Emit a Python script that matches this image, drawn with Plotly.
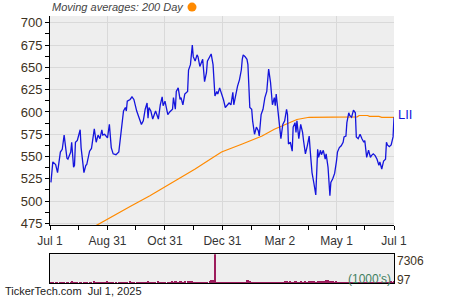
import pandas as pd
import plotly.graph_objects as go

start_date = pd.Timestamp("2024-07-01")

# day offsets from Jul 1, 2024 of the price points
price_days = [
    1, 3, 6, 8, 11, 13, 15, 18, 19, 22,
    23, 25, 26, 27, 29, 32, 33, 36, 38, 39,
    42, 44, 47, 49, 51, 53, 55, 56, 58, 61,
    63, 65, 67, 70, 73, 75, 78, 80, 81, 82,
    85, 87, 89, 92, 94, 97, 99, 101, 103, 104,
    105, 107, 109, 111, 112, 115, 117, 119, 120, 122,
    125, 127, 130, 131, 133, 134, 136, 138, 139, 141,
    143, 146, 147, 149, 151, 152, 154, 156, 157, 159,
    161, 162, 164, 166, 167, 170, 171, 173, 175, 177,
    178, 180, 182, 184, 186, 188, 190, 192, 194, 195,
    197, 199, 201, 203, 204, 205, 207, 209, 210, 212,
    214, 215, 217, 219, 221, 222, 224, 226, 228, 230,
    231, 232, 234, 236, 238, 239, 240, 242, 244, 245,
    247, 249, 251, 252, 253, 255, 257, 258, 260, 261,
    262, 264, 266, 268, 269, 271, 273, 275, 276, 278,
    280, 282, 284, 285, 287, 288, 290, 292, 293, 295,
    297, 298, 300, 302, 304, 305, 307, 309, 311, 312,
    314, 315, 317, 318, 320, 322, 324, 325, 327, 329,
    331, 333, 334, 336, 338, 340, 341, 343, 345, 347,
    349, 350, 352, 354, 356, 357, 358, 360, 362, 364,
    365,
]
prices = [
    521, 544, 541, 532, 555, 558, 574, 548, 547, 555,
    566, 538, 540, 566, 568, 580, 560, 532, 540, 541,
    556, 559, 581, 566, 574, 570, 580, 574, 575, 571,
    586, 560, 553, 552, 555, 571, 601, 605, 601, 612,
    614, 617, 614, 601, 595, 586, 590, 603, 610, 593,
    605, 601, 592, 600, 601, 592, 608, 617, 607, 612,
    597, 600, 603, 616, 603, 623, 627, 614, 616, 608,
    620, 623, 647, 653, 675, 662, 657, 664, 662, 651,
    657, 659, 634, 644, 657, 662, 665, 653, 618, 623,
    620, 627, 621, 614, 605, 608, 610, 608, 622, 608,
    621, 629, 636, 647, 659, 664, 662, 659, 653, 605,
    603, 590, 575, 583, 579, 573, 597, 603, 616, 623,
    636, 648, 633, 608, 616, 607, 620, 597, 581, 570,
    586, 590, 603, 597, 564, 566, 556, 583, 588, 577,
    590, 570, 586, 577, 568, 553, 562, 573, 558, 532,
    520, 507, 558, 549, 557, 552, 557, 547, 553, 538,
    506, 521, 525, 531, 545, 555, 560, 562, 566, 572,
    573, 588, 599, 596, 594, 602, 599, 572, 570, 575,
    570, 566, 568, 549, 557, 549, 551, 553, 551, 547,
    540, 544, 536, 545, 547, 566, 563, 561, 563, 572,
    594,
]
# volume (1000's), same days as the prices
volumes = [
    330, 310, 300, 290, 310, 300, 330, 320, 300, 310,
    560, 310, 300, 290, 330, 310, 300, 290, 310, 300,
    290, 300, 480, 310, 300, 290, 310, 300, 330, 520,
    310, 300, 290, 310, 300, 290, 310, 300, 310, 290,
    520, 310, 300, 290, 310, 300, 290, 310, 300, 520,
    310, 300, 290, 310, 300, 620, 310, 300, 290, 310,
    300, 310, 420, 400, 440, 420, 400, 440, 420, 400,
    420, 440, 400, 420, 440, 400, 330, 310, 300, 310,
    300, 310, 330, 310, 300, 560, 820, 780, 7306, 330,
    310, 300, 290, 310, 300, 310, 300, 290, 310, 300,
    310, 300, 290, 310, 300, 310, 330, 820, 780, 560,
    310, 300, 330, 310, 300, 310, 300, 310, 300, 290,
    310, 300, 330, 310, 300, 310, 330, 310, 300, 330,
    330, 620, 560, 420, 400, 420, 330, 310, 520, 420,
    400, 330, 420, 400, 330, 420, 400, 620, 440, 420,
    440, 400, 440, 420, 400, 440, 420, 650, 860, 760,
    520, 440, 420, 400, 420, 400, 330, 310, 330, 310,
    300, 310, 330, 310, 300, 310, 300, 290, 310, 300,
    310, 300, 290, 310, 300, 310, 300, 290, 310, 300,
    310, 300, 290, 310, 300, 290, 310, 300, 620, 310,
    560,
]
# 200-day moving average
ma_days = [48, 66, 85, 106, 124, 143, 154, 170, 182, 204, 225, 238, 250,
           262, 275, 326, 328, 337, 339, 349, 352, 365]
ma_values = [472, 483, 494, 506, 517, 529, 536, 547, 555, 564, 573, 580.5, 586,
             591.5, 594, 594.5, 596, 596, 595, 595, 594, 594]

x_tick_dates = ["2024-07-01", "2024-08-31", "2024-10-31", "2024-12-31",
                "2025-03-02", "2025-05-01", "2025-07-01"]
x_tick_labels = ["Jul 1", "Aug 31", "Oct 31", "Dec 31", "Mar 2", "May 1", "Jul 1"]
x_minor_dates = ["2024-07-31", "2024-09-30", "2024-11-30", "2025-01-31",
                 "2025-04-01", "2025-05-31"]
y_ticks = [475, 500, 525, 550, 575, 600, 625, 650, 675, 700]
vol_max, vol_min = 7306, 97
ticker = "LII"
legend_text = "Moving averages: 200 Day"
footer_text = "TickerTech.com  Jul 1, 2025"

price_dates = [start_date + pd.Timedelta(days=d) for d in price_days]
ma_dates = [start_date + pd.Timedelta(days=d) for d in ma_days]

FONT = "Liberation Sans, Arial, sans-serif"
BLUE = "#1414dc"
ORANGE = "#ff8a00"
GRID = "#d9d9d9"
LABEL = "#3d3222"

fig = go.Figure()
fig.add_trace(go.Scatter(x=ma_dates, y=ma_values, mode="lines",
                         line=dict(color=ORANGE, width=1.2), hoverinfo="skip"))
fig.add_trace(go.Scatter(x=price_dates, y=prices, mode="lines",
                         line=dict(color=BLUE, width=1.3), hoverinfo="skip"))
fig.add_trace(go.Bar(x=price_dates, y=volumes, xaxis="x2", yaxis="y2",
                     marker=dict(color="#9c1c5c", line=dict(width=0)),
                     width=1.2 * 86400000, hoverinfo="skip"))

minor_y = [t + 12.5 for t in y_ticks[:-1]]

fig.update_layout(
    width=450, height=300,
    margin=dict(l=50, r=56, t=16, b=15),
    paper_bgcolor="white", plot_bgcolor="#eeeeee",
    showlegend=False, bargap=0,
    font=dict(family=FONT, size=12, color="#333333"),
    xaxis=dict(domain=[0, 1], anchor="y", type="date",
               range=["2024-07-01", "2025-07-01"],
               tickvals=x_tick_dates, ticktext=x_tick_labels,
               showgrid=True, gridcolor=GRID, gridwidth=1,
               showline=True, linecolor="black", linewidth=1,
               ticks="outside", ticklen=4, tickcolor="black",
               tickfont=dict(size=12, color="#333333"),
               minor=dict(tickvals=x_minor_dates, ticks="outside", ticklen=4,
                          tickcolor="black", showgrid=False),
               zeroline=False),
    yaxis=dict(domain=[0.2156, 1], anchor="x", range=[472.7, 707.6],
               tickvals=y_ticks, showgrid=True, gridcolor=GRID, gridwidth=1,
               showline=True, linecolor="black", linewidth=1,
               ticks="outside", ticklen=4, tickcolor="black",
               tickfont=dict(size=13, color=LABEL),
               minor=dict(tickvals=minor_y, ticks="outside", ticklen=4,
                          tickcolor="black", showgrid=False),
               zeroline=False),
    xaxis2=dict(domain=[0, 1], anchor="y2", matches="x", type="date",
                showticklabels=False, showgrid=False, ticks="",
                showline=True, mirror=True, linecolor="black", linewidth=1),
    yaxis2=dict(domain=[0, 0.1078], anchor="x2", range=[vol_min, vol_max],
                showticklabels=False, showgrid=False, ticks="", zeroline=False,
                showline=True, mirror=True, linecolor="black", linewidth=1),
)

ann = [
    dict(text="<i>" + legend_text + "</i>", xref="paper", yref="paper",
         x=0, y=1.0335, xanchor="left", yanchor="middle", showarrow=False,
         font=dict(size=11, color="#444444")),
    dict(text=ticker, xref="paper", yref="y", x=1, y=prices[-1],
         xanchor="left", yanchor="middle", xshift=2, yshift=3, showarrow=False,
         font=dict(size=13, color=BLUE)),
    dict(text=str(vol_max), xref="paper", yref="paper", x=1, y=0.0836,
         xanchor="left", yanchor="middle", xshift=1, showarrow=False,
         font=dict(size=12, color=LABEL)),
    dict(text=str(vol_min), xref="paper", yref="paper", x=1, y=0.0112,
         xanchor="left", yanchor="middle", xshift=1, showarrow=False,
         font=dict(size=12, color=LABEL)),
    dict(text="(1000's)", xref="paper", yref="paper", x=1, y=0.016,
         xanchor="right", yanchor="middle", xshift=-1, showarrow=False,
         font=dict(size=12, color="#3f7f5f")),
    dict(text=footer_text, xref="paper", yref="paper", x=-0.1366, y=-0.0297,
         xanchor="left", yanchor="middle", showarrow=False,
         font=dict(size=11, color="#222222")),
]
# legend marker dot for the moving average
shapes = [dict(type="circle", xref="paper", yref="paper",
               x0=0.3997, x1=0.4259, y0=1.0167, y1=1.0502,
               fillcolor=ORANGE, line=dict(width=0))]
fig.update_layout(annotations=ann, shapes=shapes)

fig.write_html("out.html")
